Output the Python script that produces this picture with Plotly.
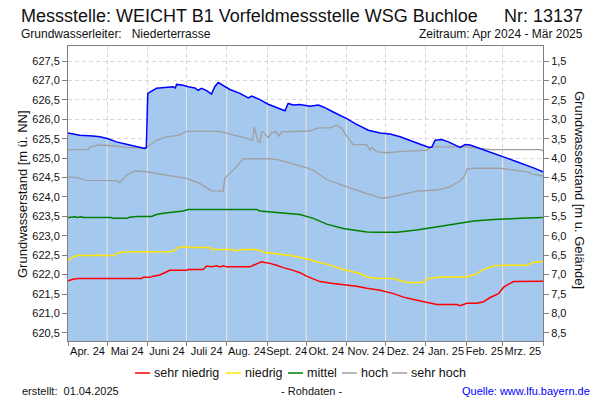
import numpy as np
import pandas as pd
import plotly.graph_objects as go

# ---------------- data (days since 2024-04-01) ----------------
START = pd.Timestamp("2024-04-01")
END = pd.Timestamp("2025-04-01")
GELAENDE = 629.0  # ground level [m ü. NN]

STAND_TAGE = [0, 9, 19.2, 24.4, 30.8, 37.2, 44.9, 52.6, 59, 60.2,
              60.8, 61.3, 68, 80.8, 82.5, 83.4, 88.5, 92.3, 97.5, 100,
              102.6, 106.5, 110.3, 112.8, 115.4, 119.2, 124.4, 132.1, 138.5, 141.1,
              147.5, 153.8, 160.3, 166.7, 169.2, 173.1, 178.2, 185.9, 192.3, 196.2,
              203.8, 214.2, 221.8, 230.8, 239.8, 247.5, 255.2, 265.4, 276.9, 279.5,
              282.1, 287.2, 292.3, 301.3, 305.2, 309, 319.2, 332.1, 344.9, 357.7, 365]
STAND_WERTE = [625.65, 625.59, 625.57, 625.55, 625.50, 625.42, 625.36, 625.29, 625.25, 625.27,
               626.19, 626.67, 626.80, 626.84, 626.81, 626.90, 626.88, 626.84, 626.81, 626.75,
               626.80, 626.74, 626.65, 626.84, 626.95, 626.88, 626.77, 626.67, 626.55, 626.60,
               626.51, 626.39, 626.30, 626.22, 626.41, 626.37, 626.38, 626.34, 626.37, 626.32,
               626.19, 626.02, 625.87, 625.72, 625.65, 625.62, 625.55, 625.42, 625.28, 625.28,
               625.46, 625.48, 625.42, 625.28, 625.35, 625.34, 625.22, 625.08, 624.91, 624.75, 624.65]

SEHR_HOCH_TAGE = [0, 15.4, 16.7, 24.4, 34.6, 44.9, 57.7, 60.8, 68, 75.7,
                  84.7, 91.1, 116.7, 121.8, 127, 137.2, 141.8, 143.1, 146, 147.5,
                  148.8, 150, 153.8, 156.5, 159.8, 162, 164.2, 178.2, 185.9, 192.3,
                  201.3, 206.5, 210.3, 215.4, 219.2, 229.5, 232, 233.6, 237.6, 246.1,
                  252.5, 275.8, 279.7, 306.5, 316.7, 324.4, 362.8, 365]
SEHR_HOCH_WERTE = [625.22, 625.22, 625.29, 625.34, 625.32, 625.28, 625.26, 625.29, 625.46, 625.55,
                   625.59, 625.69, 625.69, 625.65, 625.59, 625.51, 625.45, 625.81, 625.42, 625.40,
                   625.68, 625.68, 625.53, 625.66, 625.68, 625.57, 625.68, 625.70, 625.70, 625.78,
                   625.78, 625.85, 625.77, 625.51, 625.35, 625.35, 625.21, 625.27, 625.16, 625.14,
                   625.16, 625.21, 625.29, 625.29, 625.25, 625.22, 625.22, 625.19]

HOCH_TAGE = [0, 7, 14.1, 29.5, 37.2, 39.8, 44.9, 51.3, 60.2, 70.5,
             82.1, 91.1, 101.3, 110.3, 119.2, 120.5, 124.4, 129.5, 134.6, 155.2,
             162.8, 173.1, 178.2, 184.7, 188.5, 198.8, 214.2, 229.6, 239.8, 244.9,
             255.2, 268, 283.4, 293.6, 301.3, 305.2, 306.5, 311.6, 332.1, 342.4,
             352.6, 357.7, 365]
HOCH_WERTE = [624.52, 624.50, 624.43, 624.42, 624.42, 624.37, 624.56, 624.67, 624.65, 624.59,
              624.52, 624.48, 624.35, 624.16, 624.15, 624.48, 624.62, 624.78, 624.98, 624.99,
              624.95, 624.86, 624.80, 624.74, 624.69, 624.45, 624.26, 624.09, 623.98, 623.98,
              624.05, 624.15, 624.18, 624.26, 624.42, 624.56, 624.72, 624.74, 624.74, 624.69,
              624.65, 624.58, 624.54]

MITTEL_TAGE = [0, 5.4, 7, 10.3, 12, 33.1, 34.4, 44.9, 47.5, 52.6,
               64.2, 68, 73.1, 80.8, 88.5, 92.3, 144.9, 147.5, 160.3, 168,
               178.2, 188.5, 198.8, 211.5, 229.6, 237.3, 252.8, 268, 280.8, 296.2,
               311.6, 327, 347.5, 365]
MITTEL_WERTE = [623.47, 623.49, 623.47, 623.49, 623.47, 623.47, 623.45, 623.45, 623.48, 623.50,
                623.50, 623.55, 623.58, 623.61, 623.64, 623.68, 623.68, 623.64, 623.61, 623.58,
                623.55, 623.45, 623.30, 623.19, 623.10, 623.09, 623.09, 623.15, 623.21, 623.30,
                623.38, 623.42, 623.45, 623.47]

NIEDRIG_TAGE = [0, 3.8, 7.7, 21.3, 21.8, 23.5, 35.9, 37.2, 39.8, 48.8,
                79.6, 82.1, 84.7, 92.3, 93.5, 109, 110.3, 127, 128.3, 134.6,
                144.9, 148.8, 151.3, 160.3, 168, 173.1, 180.8, 185.9, 188.5, 198.8,
                211.5, 224.4, 229.6, 237.3, 250.1, 255.2, 260.3, 273.1, 276.9, 285.9,
                306.5, 312.9, 319.2, 326.9, 334.6, 352.6, 357.7, 365]
NIEDRIG_WERTE = [622.35, 622.46, 622.49, 622.49, 622.53, 622.49, 622.49, 622.54, 622.57, 622.59,
                 622.59, 622.63, 622.70, 622.72, 622.70, 622.70, 622.65, 622.65, 622.61, 622.65,
                 622.65, 622.61, 622.57, 622.54, 622.50, 622.48, 622.42, 622.39, 622.35, 622.27,
                 622.13, 622.03, 621.94, 621.90, 621.90, 621.84, 621.80, 621.80, 621.90, 621.94,
                 621.94, 622.01, 622.13, 622.22, 622.24, 622.24, 622.32, 622.34]

SEHR_NIEDRIG_TAGE = [0, 3.8, 7.7, 56.4, 57.7, 62.8, 65.4, 70.5, 73.1, 75.7,
                     78.2, 91.1, 92.3, 103.8, 106.5, 110.3, 114.1, 116.7, 119.2, 121.8,
                     139.8, 142.4, 146.2, 148.8, 151.3, 155.2, 160.3, 165.4, 173.1, 178.2,
                     183.3, 188.5, 193.6, 203.8, 214.2, 221.8, 229.6, 239.8, 250.1, 257.8,
                     265.5, 275.8, 283.4, 298.8, 301.3, 306.5, 314.2, 319.2, 324.4, 330.8,
                     334.6, 337.2, 342.4, 365]
SEHR_NIEDRIG_WERTE = [621.84, 621.88, 621.90, 621.90, 621.93, 621.93, 621.96, 621.99, 622.03, 622.08,
                      622.11, 622.11, 622.13, 622.13, 622.22, 622.20, 622.23, 622.20, 622.23, 622.20,
                      622.20, 622.24, 622.29, 622.33, 622.31, 622.29, 622.24, 622.18, 622.11, 622.05,
                      621.96, 621.88, 621.82, 621.77, 621.73, 621.70, 621.65, 621.60, 621.51, 621.42,
                      621.36, 621.28, 621.23, 621.23, 621.20, 621.26, 621.26, 621.30, 621.41, 621.51,
                      621.67, 621.73, 621.82, 621.83]

MONATE = ["Apr. 24", "Mai 24", "Juni 24", "Juli 24", "Aug. 24", "Sept. 24",
          "Okt. 24", "Nov. 24", "Dez. 24", "Jan. 25", "Feb. 25", "Mrz. 25"]

LEGENDE = ["sehr niedrig", "niedrig", "mittel", "hoch", "sehr hoch"]
FARBEN = ["#FF0000", "#FFE600", "#008000", "#A0A0A0", "#A0A0A0"]

# ---------------- helpers ----------------
W, H = 600, 400
ML, MR, MT, MB = 68, 57, 46, 59
PW, PH = W - ML - MR, H - MT - MB


def px(x):
    return (x - ML) / PW


def py(y):
    return (H - MB - y) / PH


def to_dates(days):
    return START + pd.to_timedelta(np.asarray(days, dtype=float), unit="D")


Y_MIN, Y_MAX = 620.29, 627.89
FILL = "#A5C8EE"
GRID = "#D8D8D8"
AXIS = "#808080"
FONT = "Liberation Sans, Arial, sans-serif"

fig = go.Figure()

stand_x = to_dates(STAND_TAGE)
fig.add_trace(go.Scatter(x=stand_x, y=STAND_WERTE, mode="lines", fill="tozeroy",
                         fillcolor=FILL, line=dict(color="rgba(0,0,0,0)", width=0),
                         hoverinfo="skip", showlegend=False))

# solid light month lines inside the filled area
month_starts = pd.date_range(START, END, freq="MS")
ms_days = (month_starts - START).days.values.astype(float)
levels = np.interp(ms_days, STAND_TAGE, STAND_WERTE)
vx, vy = [], []
for d, lv in zip(month_starts[1:-1], levels[1:-1]):
    vx += [d, d, None]
    vy += [Y_MIN, lv, None]
fig.add_trace(go.Scatter(x=vx, y=vy, mode="lines", line=dict(color="#E2E2E2", width=1.2),
                         hoverinfo="skip", showlegend=False))

series = [
    (SEHR_HOCH_TAGE, SEHR_HOCH_WERTE, FARBEN[4], 1.3),
    (HOCH_TAGE, HOCH_WERTE, FARBEN[3], 1.3),
    (MITTEL_TAGE, MITTEL_WERTE, FARBEN[2], 1.5),
    (NIEDRIG_TAGE, NIEDRIG_WERTE, FARBEN[1], 1.5),
    (SEHR_NIEDRIG_TAGE, SEHR_NIEDRIG_WERTE, FARBEN[0], 1.5),
]
for t, v, c, w in series:
    fig.add_trace(go.Scatter(x=to_dates(t), y=v, mode="lines", line=dict(color=c, width=w),
                             hoverinfo="skip", showlegend=False))

fig.add_trace(go.Scatter(x=stand_x, y=STAND_WERTE, mode="lines",
                         line=dict(color="#0000FF", width=1.5),
                         hoverinfo="skip", showlegend=False))

# same series on depth axis (invisible) so the right axis is drawn
fig.add_trace(go.Scatter(x=stand_x, y=[GELAENDE - v for v in STAND_WERTE], yaxis="y2",
                         mode="lines", line=dict(color="rgba(0,0,0,0)", width=0),
                         hoverinfo="skip", showlegend=False))

mid_month = month_starts[:-1] + (month_starts[1:] - month_starts[:-1]) / 2

fig.update_layout(
    width=W, height=H,
    margin=dict(l=ML, r=MR, t=MT, b=MB, pad=0),
    paper_bgcolor="white", plot_bgcolor="white",
    separators=",.",
    font=dict(family=FONT, size=11, color="#111111"),
    showlegend=False,
    xaxis=dict(type="date", range=[START, END], showgrid=False,
               tickmode="array", tickvals=mid_month, ticktext=MONATE, ticks="",
               tickangle=0, automargin=False,
               tickfont=dict(size=11, color="#111111"),
               showline=True, linecolor=AXIS, linewidth=1, mirror=True,
               zeroline=False,
               minor=dict(tickmode="array", tickvals=month_starts, ticks="outside",
                          ticklen=4, tickcolor=AXIS, showgrid=True, gridcolor=GRID,
                          griddash="4px,3px", gridwidth=1)),
    yaxis=dict(range=[Y_MIN, Y_MAX], tick0=620.5, dtick=0.5, tickformat=".1f",
               ticks="outside", ticklen=5, tickcolor=AXIS, automargin=False,
               showgrid=True, gridcolor=GRID, griddash="4px,3px",
               showline=True, linecolor=AXIS, zeroline=False,
               tickfont=dict(size=11, color="#111111")),
    yaxis2=dict(range=[GELAENDE - Y_MIN, GELAENDE - Y_MAX], overlaying="y", side="right",
                tick0=1.5, dtick=0.5, tickformat=".1f", ticks="outside", ticklen=5,
                tickcolor=AXIS, showgrid=False, showline=True, linecolor=AXIS,
                automargin=False,
                zeroline=False, tickfont=dict(size=11, color="#111111")),
)

ann = []


def text(x, y, s, size, xanchor="left", color="#111111", angle=0):
    ann.append(dict(x=px(x), y=py(y), xref="paper", yref="paper", text=s, showarrow=False,
                    xanchor=xanchor, yanchor="middle", textangle=angle,
                    font=dict(family=FONT, size=size, color=color)))


text(19, 16, "Messstelle: WEICHT B1 Vorfeldmessstelle WSG Buchloe", 18)
text(585, 16, "Nr: 13137", 18, xanchor="right")
text(19, 34, "Grundwasserleiter:   Niederterrasse", 12)
text(585, 34, "Zeitraum: Apr 2024 - Mär 2025", 12, xanchor="right")
text(22, 194, "Grundwasserstand [m ü. NN]", 13, xanchor="center", angle=-90)
text(580, 190, "Grundwasserstand [m u. Gelände]", 13, xanchor="center", angle=90)
text(20, 391, "erstellt:  01.04.2025", 11)
text(311, 391, "- Rohdaten -", 11, xanchor="center")
text(592, 391, "Quelle: www.lfu.bayern.de", 11, xanchor="right", color="#0000FF")

# custom legend
leg_x = [135, 226, 288, 342, 392]
shapes = []
for lx, name, col in zip(leg_x, LEGENDE, FARBEN):
    shapes.append(dict(type="line", xref="paper", yref="paper",
                       x0=px(lx), x1=px(lx + 15), y0=py(373), y1=py(373),
                       line=dict(color=col, width=1.5)))
    text(lx + 17, 373, name, 12.5)

fig.update_layout(annotations=ann, shapes=shapes)

fig.write_html("out.html", config={"displayModeBar": False},
               post_script="document.body.style.margin='0';"
               "document.body.style.overflow='hidden';")
